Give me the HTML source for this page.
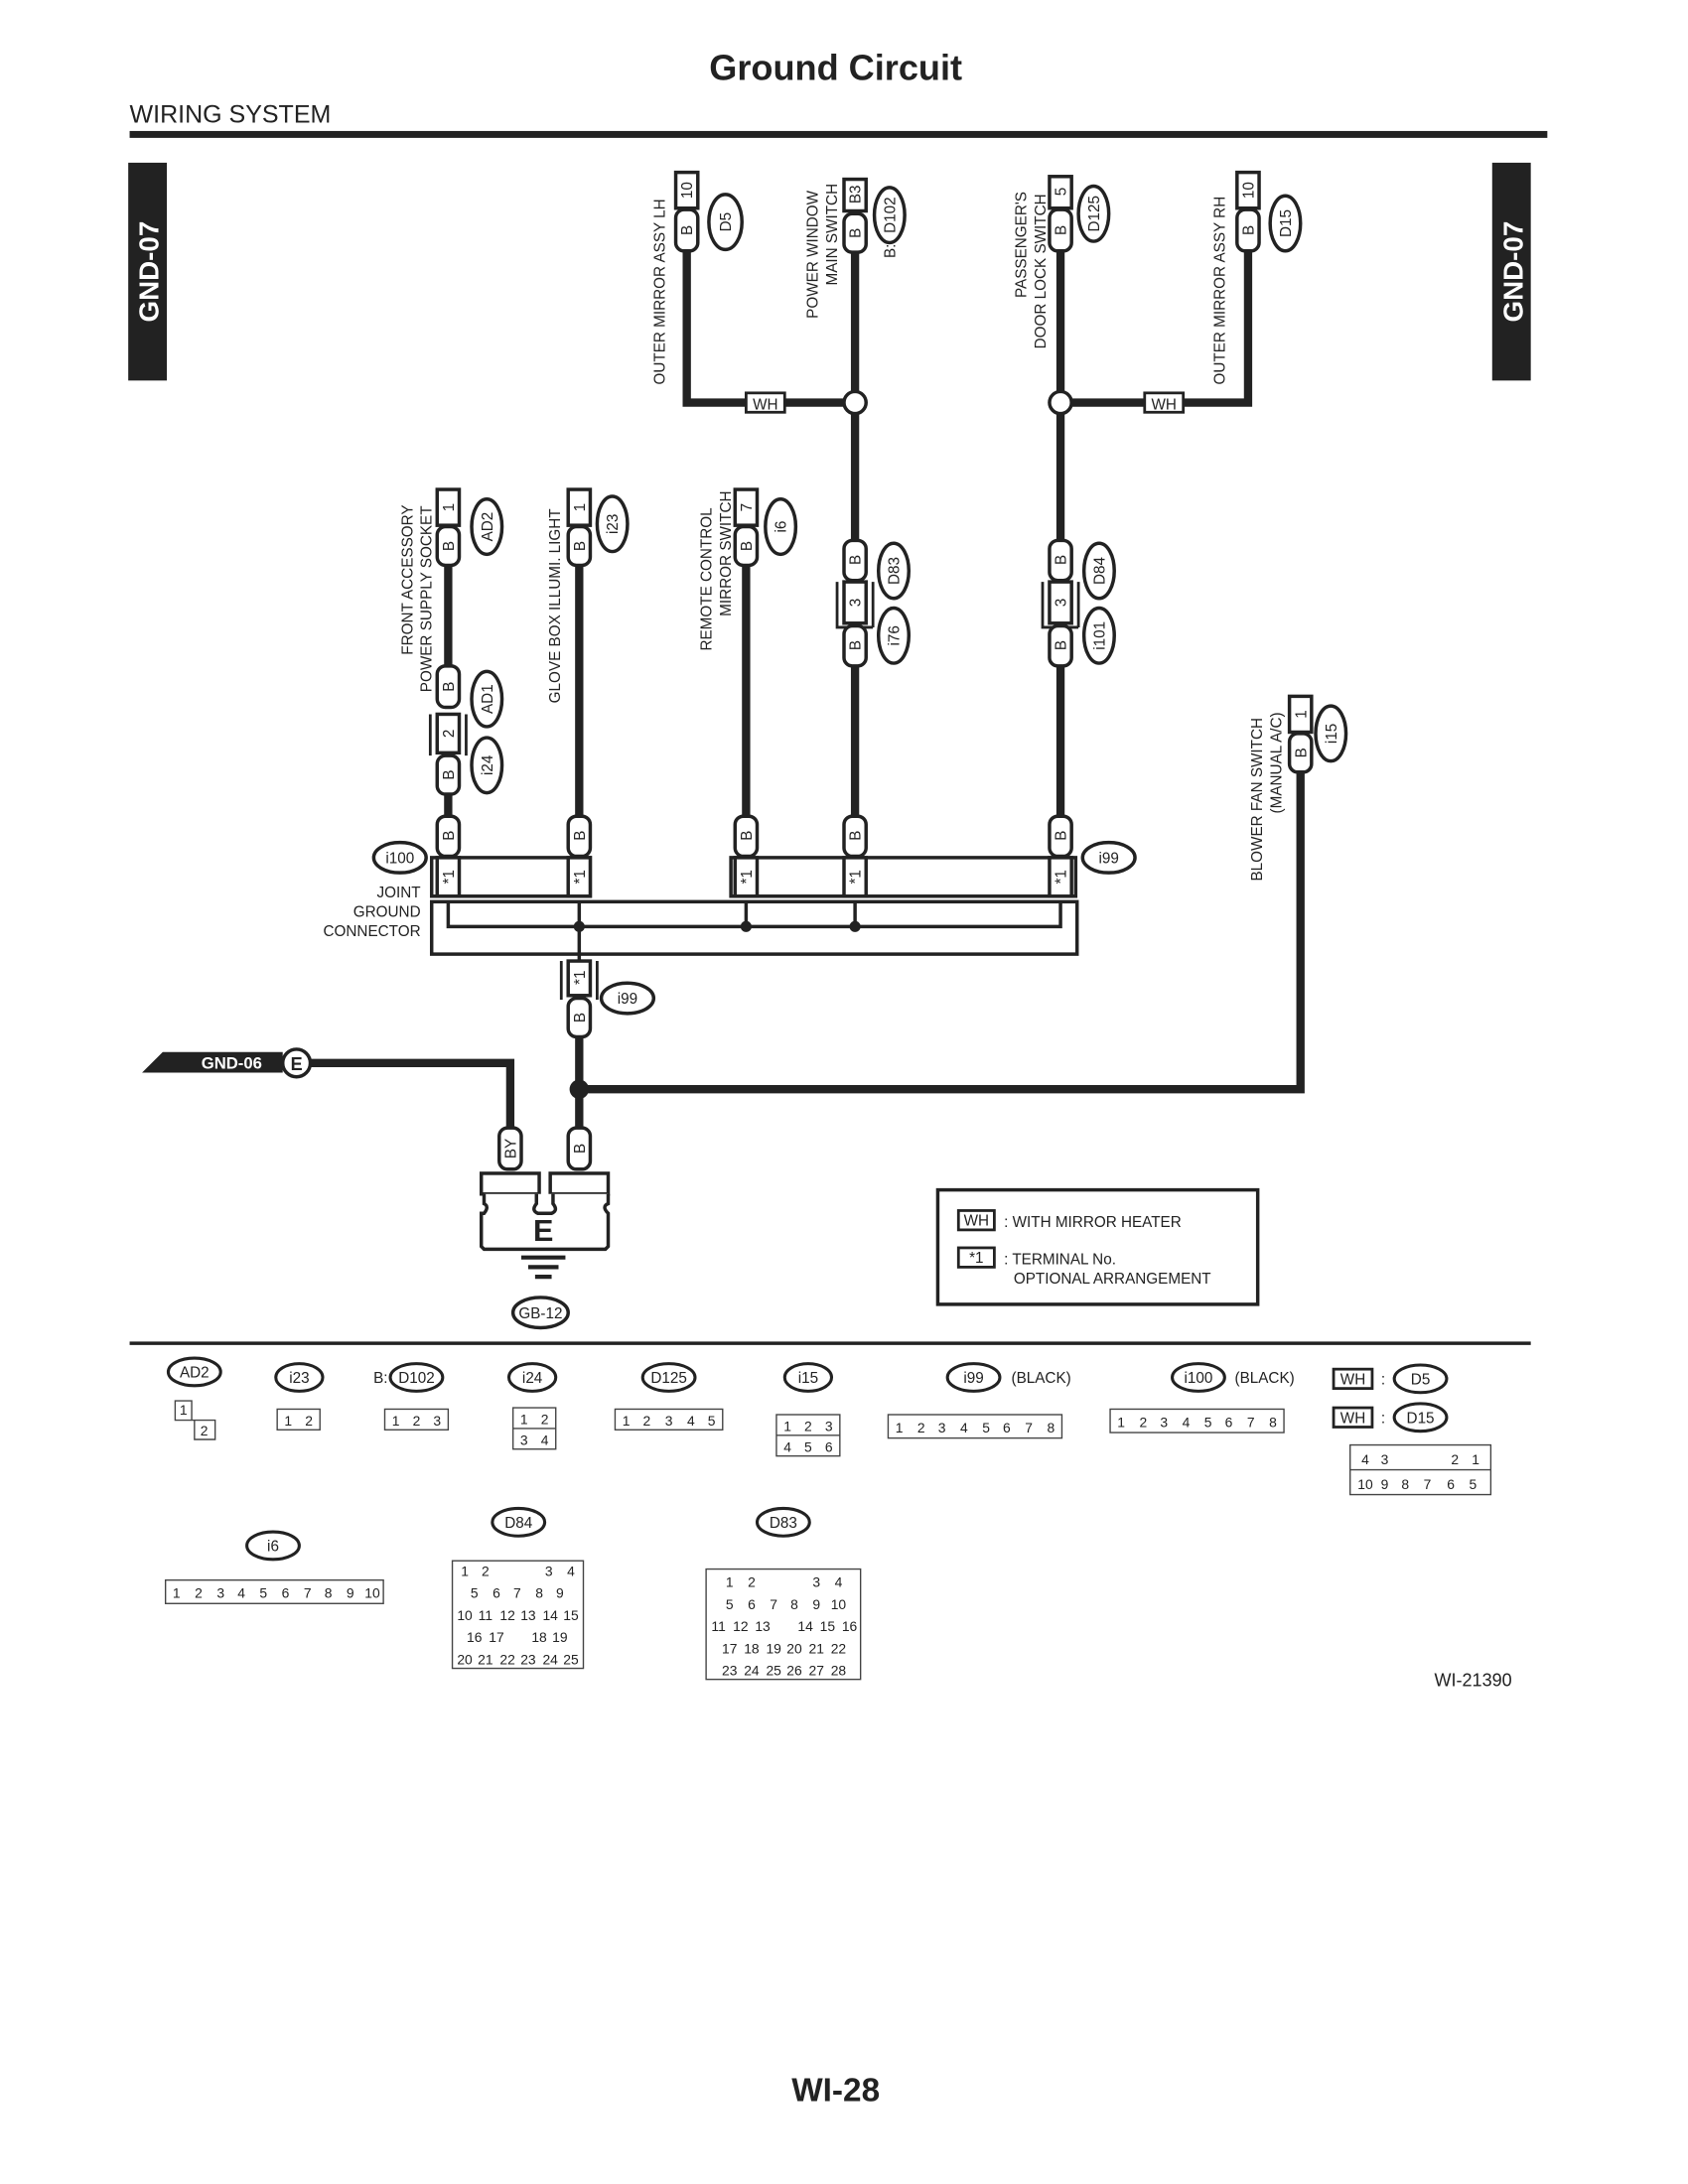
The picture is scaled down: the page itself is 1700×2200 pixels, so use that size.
<!DOCTYPE html>
<html><head><meta charset="utf-8"><style>
html,body{margin:0;padding:0;background:#fff}
svg{display:block}
text{font-family:"Liberation Sans",sans-serif;fill:#222}
</style></head><body>
<svg width="1700" height="2200" viewBox="0 0 1224 1584" xmlns="http://www.w3.org/2000/svg">
<rect width="1224" height="1584" fill="#fff"/>
<text x="606" y="58" font-size="26" font-weight="bold" text-anchor="middle">Ground Circuit</text>
<text x="94" y="89" font-size="18">WIRING SYSTEM</text>
<rect x="94" y="95" width="1028" height="5" fill="#222"/>
<rect x="93" y="118" width="28" height="158" fill="#222"/>
<text transform="translate(115 197) rotate(-90)" font-size="20" font-weight="bold" text-anchor="middle" style="fill:#fff">GND-07</text>
<rect x="1082" y="118" width="28" height="158" fill="#222"/>
<text transform="translate(1104 197) rotate(-90)" font-size="20" font-weight="bold" text-anchor="middle" style="fill:#fff">GND-07</text>

<g stroke="#222" stroke-width="6" fill="none" stroke-linecap="square">
<!-- top wires -->
<polyline points="498,182 498,292 620,292"/>
<line x1="620" y1="183" x2="620" y2="392"/>
<line x1="620" y1="483" x2="620" y2="592"/>
<polyline points="905,182 905,292 769,292"/>
<line x1="769" y1="182" x2="769" y2="392"/>
<line x1="769" y1="483" x2="769" y2="592"/>
<line x1="325" y1="410" x2="325" y2="483"/>
<line x1="325" y1="576" x2="325" y2="592"/>
<line x1="420" y1="410" x2="420" y2="592"/>
<line x1="541" y1="410" x2="541" y2="592"/>
<line x1="420" y1="752" x2="420" y2="820"/>
<polyline points="420,790 943,790 943,560"/>
<polyline points="225,771 370,771 370,820"/>
</g>
<g stroke="#222" stroke-width="2.5" fill="#fff">
<circle cx="620" cy="292" r="8"/>
<circle cx="769" cy="292" r="8"/>
</g>
<circle cx="420" cy="790" r="7" fill="#222"/>

<!-- WH labels -->
<g font-size="11" text-anchor="middle">
<rect x="541" y="285" width="28" height="14" fill="#fff" stroke="#222" stroke-width="2"/><text x="555" y="297">WH</text>
<rect x="830" y="285" width="28" height="14" fill="#fff" stroke="#222" stroke-width="2"/><text x="844" y="297">WH</text>
</g>

<!-- connector boxes (numbers) -->
<g stroke="#222" stroke-width="2.5" fill="#fff">
<rect x="490" y="125" width="16" height="26"/>
<rect x="612" y="130" width="16" height="23"/>
<rect x="761" y="128" width="16" height="23"/>
<rect x="897" y="125" width="16" height="26"/>
<rect x="317" y="355" width="16" height="26"/>
<rect x="412" y="355" width="16" height="26"/>
<rect x="533" y="355" width="16" height="26"/>
<rect x="935" y="505" width="16" height="26"/>
<rect x="612" y="422" width="16" height="30"/><path d="M607 422 V455 H633 M633 422 V455" fill="none" stroke-width="2"/>
<rect x="761" y="422" width="16" height="30"/><path d="M756 422 V455 H782 M782 422 V455" fill="none" stroke-width="2"/>
<rect x="317" y="518" width="16" height="28"/><path d="M312 518 V548 M338 518 V548" fill="none" stroke-width="2"/>
<rect x="412" y="697" width="16" height="25"/><path d="M407 697 V725 M433 697 V725" fill="none" stroke-width="2"/>
</g>
<g font-size="11" text-anchor="middle">
<text transform="translate(502 138) rotate(-90)">10</text>
<text transform="translate(624 141) rotate(-90)">B3</text>
<text transform="translate(773 139) rotate(-90)">5</text>
<text transform="translate(909 138) rotate(-90)">10</text>
<text transform="translate(329 368) rotate(-90)">1</text>
<text transform="translate(424 368) rotate(-90)">1</text>
<text transform="translate(545 368) rotate(-90)">7</text>
<text transform="translate(947 518) rotate(-90)">1</text>
<text transform="translate(624 437) rotate(-90)">3</text>
<text transform="translate(773 437) rotate(-90)">3</text>
<text transform="translate(329 532) rotate(-90)">2</text>
<text transform="translate(424 709) rotate(-90)">*1</text>
</g>

<!-- pills -->
<g stroke="#222" stroke-width="2.5" fill="#fff">
<rect x="490" y="152" width="16" height="30" rx="6"/>
<rect x="612" y="155" width="16" height="28" rx="6"/>
<rect x="761" y="152" width="16" height="30" rx="6"/>
<rect x="897" y="152" width="16" height="30" rx="6"/>
<rect x="612" y="392" width="16" height="29" rx="6"/>
<rect x="612" y="454" width="16" height="29" rx="6"/>
<rect x="761" y="392" width="16" height="29" rx="6"/>
<rect x="761" y="454" width="16" height="29" rx="6"/>
<rect x="317" y="382" width="16" height="28" rx="6"/>
<rect x="412" y="382" width="16" height="28" rx="6"/>
<rect x="533" y="382" width="16" height="28" rx="6"/>
<rect x="317" y="483" width="16" height="30" rx="6"/>
<rect x="317" y="548" width="16" height="28" rx="6"/>
<rect x="317" y="592" width="16" height="29" rx="6"/>
<rect x="412" y="592" width="16" height="29" rx="6"/>
<rect x="533" y="592" width="16" height="29" rx="6"/>
<rect x="612" y="592" width="16" height="29" rx="6"/>
<rect x="761" y="592" width="16" height="29" rx="6"/>
<rect x="935" y="532" width="16" height="28" rx="6"/>
<rect x="412" y="724" width="16" height="28" rx="6"/>
<rect x="362" y="818" width="16" height="30" rx="6"/>
<rect x="412" y="818" width="16" height="30" rx="6"/>
</g>
<g font-size="11" text-anchor="middle">
<text transform="translate(502 167) rotate(-90)">B</text>
<text transform="translate(624 169) rotate(-90)">B</text>
<text transform="translate(773 167) rotate(-90)">B</text>
<text transform="translate(909 167) rotate(-90)">B</text>
<text transform="translate(624 406) rotate(-90)">B</text>
<text transform="translate(624 468) rotate(-90)">B</text>
<text transform="translate(773 406) rotate(-90)">B</text>
<text transform="translate(773 468) rotate(-90)">B</text>
<text transform="translate(329 396) rotate(-90)">B</text>
<text transform="translate(424 396) rotate(-90)">B</text>
<text transform="translate(545 396) rotate(-90)">B</text>
<text transform="translate(329 498) rotate(-90)">B</text>
<text transform="translate(329 562) rotate(-90)">B</text>
<text transform="translate(329 606) rotate(-90)">B</text>
<text transform="translate(424 606) rotate(-90)">B</text>
<text transform="translate(545 606) rotate(-90)">B</text>
<text transform="translate(624 606) rotate(-90)">B</text>
<text transform="translate(773 606) rotate(-90)">B</text>
<text transform="translate(947 546) rotate(-90)">B</text>
<text transform="translate(424 738) rotate(-90)">B</text>
<text transform="translate(374 833) rotate(-90)">BY</text>
<text transform="translate(424 833) rotate(-90)">B</text>
</g>

<!-- connector ID ellipses (vertical) -->
<g stroke="#222" stroke-width="2.5" fill="#fff">
<ellipse cx="526" cy="161" rx="12" ry="20"/>
<ellipse cx="645" cy="156" rx="11" ry="20"/>
<ellipse cx="793" cy="155" rx="11" ry="20"/>
<ellipse cx="932" cy="162" rx="11" ry="20"/>
<ellipse cx="353" cy="382" rx="11" ry="20"/>
<ellipse cx="444" cy="380" rx="11" ry="20"/>
<ellipse cx="566" cy="382" rx="11" ry="20"/>
<ellipse cx="648" cy="414" rx="11" ry="20"/>
<ellipse cx="648" cy="461" rx="11" ry="20"/>
<ellipse cx="797" cy="414" rx="11" ry="20"/>
<ellipse cx="797" cy="461" rx="11" ry="20"/>
<ellipse cx="353" cy="507" rx="11" ry="20"/>
<ellipse cx="353" cy="555" rx="11" ry="20"/>
<ellipse cx="965" cy="532" rx="11" ry="20"/>
</g>
<g font-size="11" text-anchor="middle">
<text transform="translate(530 161) rotate(-90)">D5</text>
<text transform="translate(649 156) rotate(-90)">D102</text>
<text transform="translate(797 155) rotate(-90)">D125</text>
<text transform="translate(936 162) rotate(-90)">D15</text>
<text transform="translate(357 382) rotate(-90)">AD2</text>
<text transform="translate(448 380) rotate(-90)">i23</text>
<text transform="translate(570 382) rotate(-90)">i6</text>
<text transform="translate(652 414) rotate(-90)">D83</text>
<text transform="translate(652 461) rotate(-90)">i76</text>
<text transform="translate(801 414) rotate(-90)">D84</text>
<text transform="translate(801 461) rotate(-90)">i101</text>
<text transform="translate(357 507) rotate(-90)">AD1</text>
<text transform="translate(357 555) rotate(-90)">i24</text>
<text transform="translate(969 532) rotate(-90)">i15</text>
<text transform="translate(649 182) rotate(-90)">B:</text>
</g>

<!-- component labels -->
<g font-size="11">
<text transform="translate(482 279) rotate(-90)">OUTER MIRROR ASSY LH</text>
<text transform="translate(593 231) rotate(-90)">POWER WINDOW</text>
<text transform="translate(607 207) rotate(-90)">MAIN SWITCH</text>
<text transform="translate(744 216) rotate(-90)">PASSENGER'S</text>
<text transform="translate(758 253) rotate(-90)">DOOR LOCK SWITCH</text>
<text transform="translate(888 279) rotate(-90)">OUTER MIRROR ASSY RH</text>
<text transform="translate(299 475) rotate(-90)">FRONT ACCESSORY</text>
<text transform="translate(313 502) rotate(-90)">POWER SUPPLY SOCKET</text>
<text transform="translate(406 510) rotate(-90)">GLOVE BOX ILLUMI. LIGHT</text>
<text transform="translate(516 472) rotate(-90)">REMOTE CONTROL</text>
<text transform="translate(530 447) rotate(-90)">MIRROR SWITCH</text>
<text transform="translate(915 639) rotate(-90)">BLOWER FAN SWITCH</text>
<text transform="translate(929 590) rotate(-90)">(MANUAL A/C)</text>
</g>

<!-- joint ground connector -->
<g stroke="#222" stroke-width="2.5" fill="none">
<rect x="313" y="622" width="115" height="28"/>
<rect x="530" y="622" width="250" height="28"/>
<rect x="313" y="654" width="468" height="38"/>
<polyline points="325,654 325,672 769,672 769,654"/>
<line x1="420" y1="654" x2="420" y2="697"/>
<line x1="541" y1="654" x2="541" y2="672"/>
<line x1="620" y1="654" x2="620" y2="672"/>
</g>
<g stroke="#222" stroke-width="2.5" fill="#fff">
<rect x="317" y="622" width="16" height="28"/>
<rect x="412" y="622" width="16" height="28"/>
<rect x="533" y="622" width="16" height="28"/>
<rect x="612" y="622" width="16" height="28"/>
<rect x="761" y="622" width="16" height="28"/>
</g>
<g fill="#222"><circle cx="420" cy="672" r="4"/><circle cx="541" cy="672" r="4"/><circle cx="620" cy="672" r="4"/></g>
<g font-size="11" text-anchor="middle">
<text transform="translate(329 636) rotate(-90)">*1</text>
<text transform="translate(424 636) rotate(-90)">*1</text>
<text transform="translate(545 636) rotate(-90)">*1</text>
<text transform="translate(624 636) rotate(-90)">*1</text>
<text transform="translate(773 636) rotate(-90)">*1</text>
</g>
<g stroke="#222" stroke-width="2.5" fill="#fff">
<ellipse cx="290" cy="622" rx="19" ry="11"/>
<ellipse cx="804" cy="622" rx="19" ry="11"/>
<ellipse cx="455" cy="724" rx="19" ry="11"/>
<ellipse cx="392" cy="952" rx="20" ry="11"/>
</g>
<g font-size="11" text-anchor="middle">
<text x="290" y="626">i100</text>
<text x="804" y="626">i99</text>
<text x="455" y="728">i99</text>
<text x="392" y="956">GB-12</text>
<text x="305" y="651" text-anchor="end">JOINT</text>
<text x="305" y="665" text-anchor="end">GROUND</text>
<text x="305" y="679" text-anchor="end">CONNECTOR</text>
</g>

<!-- GND-06 -->
<polygon points="103,778 118,763 205,763 205,778" fill="#222"/>
<text x="146" y="775" font-size="12" font-weight="bold" style="fill:#fff">GND-06</text>
<circle cx="215" cy="771" r="10" fill="#fff" stroke="#222" stroke-width="2.5"/>
<text x="215" y="776" font-size="13" font-weight="bold" text-anchor="middle">E</text>

<!-- ground E -->
<g stroke="#222" stroke-width="2.5" fill="#fff">
<rect x="349" y="851" width="42" height="15"/>
<rect x="399" y="851" width="42" height="15"/>
<path d="M351 866 V873 Q355 875 351 880 H349 V904 L351 906 H439 L441 904 V880 Q436 875 441 873 V866 M389 866 V873 Q385 878 390 880 H400 Q405 878 401 873 V866"/>
</g>
<text x="394" y="900" font-size="22" font-weight="bold" text-anchor="middle">E</text>
<g stroke="#222" stroke-width="3"><line x1="378" y1="912" x2="410" y2="912"/><line x1="383" y1="919" x2="405" y2="919"/><line x1="388" y1="926" x2="400" y2="926"/></g>

<!-- legend -->
<rect x="680" y="863" width="232" height="83" fill="none" stroke="#222" stroke-width="2.5"/>
<rect x="695" y="878" width="26" height="14" fill="#fff" stroke="#222" stroke-width="2"/>
<text x="708" y="889" font-size="11" text-anchor="middle">WH</text>
<text x="728" y="890" font-size="11">: WITH MIRROR HEATER</text>
<rect x="695" y="905" width="26" height="14" fill="#fff" stroke="#222" stroke-width="2"/>
<text x="708" y="916" font-size="11" text-anchor="middle">*1</text>
<text x="728" y="917" font-size="11">: TERMINAL No.</text>
<text x="735" y="931" font-size="11">OPTIONAL ARRANGEMENT</text>

<rect x="94" y="973" width="1016" height="2.5" fill="#222"/>

<!-- connector diagrams -->
<g stroke="#222" stroke-width="2.2" fill="#fff">
<ellipse cx="141" cy="995" rx="19" ry="10"/>
<ellipse cx="217" cy="999" rx="17" ry="10"/>
<ellipse cx="302" cy="999" rx="19" ry="10"/>
<ellipse cx="386" cy="999" rx="17" ry="10"/>
<ellipse cx="485" cy="999" rx="19" ry="10"/>
<ellipse cx="586" cy="999" rx="17" ry="10"/>
<ellipse cx="706" cy="999" rx="19" ry="10"/>
<ellipse cx="869" cy="999" rx="19" ry="10"/>
<ellipse cx="1030" cy="1000" rx="19" ry="10"/>
<ellipse cx="1030" cy="1028" rx="19" ry="10"/>
<ellipse cx="198" cy="1121" rx="19" ry="10"/>
<ellipse cx="376" cy="1104" rx="19" ry="10"/>
<ellipse cx="568" cy="1104" rx="19" ry="10"/>
</g>
<g font-size="11" text-anchor="middle">
<text x="141" y="999">AD2</text><text x="217" y="1003">i23</text><text x="302" y="1003">D102</text>
<text x="276" y="1003">B:</text>
<text x="386" y="1003">i24</text><text x="485" y="1003">D125</text><text x="586" y="1003">i15</text>
<text x="706" y="1003">i99</text><text x="755" y="1003">(BLACK)</text>
<text x="869" y="1003">i100</text><text x="917" y="1003">(BLACK)</text>
<text x="1030" y="1004">D5</text><text x="1030" y="1032">D15</text>
<text x="198" y="1125">i6</text><text x="376" y="1108">D84</text><text x="568" y="1108">D83</text>
</g>
<g font-size="11" text-anchor="middle">
<rect x="967" y="993" width="28" height="14" fill="#fff" stroke="#222" stroke-width="2"/><text x="981" y="1004">WH</text><text x="1003" y="1004">:</text>
<rect x="967" y="1021" width="28" height="14" fill="#fff" stroke="#222" stroke-width="2"/><text x="981" y="1032">WH</text><text x="1003" y="1032">:</text>
</g>
<g stroke="#444" stroke-width="1" fill="none">
<path d="M127 1016 H139 V1030 H156 V1044 H141 V1030 H127 Z"/>
<rect x="201" y="1022" width="31" height="15"/>
<rect x="279" y="1022" width="46" height="15"/>
<rect x="372" y="1021" width="31" height="30"/><line x1="372" y1="1036" x2="403" y2="1036"/>
<rect x="446" y="1022" width="78" height="15"/>
<rect x="563" y="1026" width="46" height="30"/><line x1="563" y1="1041" x2="609" y2="1041"/>
<rect x="644" y="1026" width="126" height="17"/>
<rect x="805" y="1022" width="126" height="17"/>
<rect x="979" y="1048" width="102" height="36"/><line x1="979" y1="1066" x2="1081" y2="1066"/>
<rect x="120" y="1146" width="158" height="17"/>
<rect x="328" y="1132" width="95" height="78"/>
<rect x="512" y="1138" width="112" height="80"/>
</g>
<g font-size="10" text-anchor="middle">
<text x="133" y="1026">1</text><text x="148" y="1041">2</text>
<text x="209" y="1034">1</text><text x="224" y="1034">2</text>
<text x="287" y="1034">1</text><text x="302" y="1034">2</text><text x="317" y="1034">3</text>
<text x="380" y="1033">1</text><text x="395" y="1033">2</text><text x="380" y="1048">3</text><text x="395" y="1048">4</text>
<text x="454" y="1034">1</text><text x="469" y="1034">2</text><text x="485" y="1034">3</text><text x="501" y="1034">4</text><text x="516" y="1034">5</text>
<text x="571" y="1038">1</text><text x="586" y="1038">2</text><text x="601" y="1038">3</text><text x="571" y="1053">4</text><text x="586" y="1053">5</text><text x="601" y="1053">6</text>
<text x="652" y="1039">1</text><text x="668" y="1039">2</text><text x="683" y="1039">3</text><text x="699" y="1039">4</text><text x="715" y="1039">5</text><text x="730" y="1039">6</text><text x="746" y="1039">7</text><text x="762" y="1039">8</text>
<text x="813" y="1035">1</text><text x="829" y="1035">2</text><text x="844" y="1035">3</text><text x="860" y="1035">4</text><text x="876" y="1035">5</text><text x="891" y="1035">6</text><text x="907" y="1035">7</text><text x="923" y="1035">8</text>
<text x="990" y="1062">4</text><text x="1004" y="1062">3</text><text x="1055" y="1062">2</text><text x="1070" y="1062">1</text>
<text x="990" y="1080">10</text><text x="1004" y="1080">9</text><text x="1019" y="1080">8</text><text x="1035" y="1080">7</text><text x="1052" y="1080">6</text><text x="1068" y="1080">5</text>
<text x="128" y="1159">1</text><text x="144" y="1159">2</text><text x="160" y="1159">3</text><text x="175" y="1159">4</text><text x="191" y="1159">5</text><text x="207" y="1159">6</text><text x="223" y="1159">7</text><text x="238" y="1159">8</text><text x="254" y="1159">9</text><text x="270" y="1159">10</text>
<text x="337" y="1143">1</text><text x="352" y="1143">2</text><text x="398" y="1143">3</text><text x="414" y="1143">4</text>
<text x="344" y="1159">5</text><text x="360" y="1159">6</text><text x="375" y="1159">7</text><text x="391" y="1159">8</text><text x="406" y="1159">9</text>
<text x="337" y="1175">10</text><text x="352" y="1175">11</text><text x="368" y="1175">12</text><text x="383" y="1175">13</text><text x="399" y="1175">14</text><text x="414" y="1175">15</text>
<text x="344" y="1191">16</text><text x="360" y="1191">17</text><text x="391" y="1191">18</text><text x="406" y="1191">19</text>
<text x="337" y="1207">20</text><text x="352" y="1207">21</text><text x="368" y="1207">22</text><text x="383" y="1207">23</text><text x="399" y="1207">24</text><text x="414" y="1207">25</text>
<text x="529" y="1151">1</text><text x="545" y="1151">2</text><text x="592" y="1151">3</text><text x="608" y="1151">4</text>
<text x="529" y="1167">5</text><text x="545" y="1167">6</text><text x="561" y="1167">7</text><text x="576" y="1167">8</text><text x="592" y="1167">9</text><text x="608" y="1167">10</text>
<text x="521" y="1183">11</text><text x="537" y="1183">12</text><text x="553" y="1183">13</text><text x="584" y="1183">14</text><text x="600" y="1183">15</text><text x="616" y="1183">16</text>
<text x="529" y="1199">17</text><text x="545" y="1199">18</text><text x="561" y="1199">19</text><text x="576" y="1199">20</text><text x="592" y="1199">21</text><text x="608" y="1199">22</text>
<text x="529" y="1215">23</text><text x="545" y="1215">24</text><text x="561" y="1215">25</text><text x="576" y="1215">26</text><text x="592" y="1215">27</text><text x="608" y="1215">28</text>
</g>

<text x="1040" y="1223" font-size="13">WI-21390</text>
<text x="606" y="1524" font-size="24" font-weight="bold" text-anchor="middle">WI-28</text>
</svg>
</body></html>
